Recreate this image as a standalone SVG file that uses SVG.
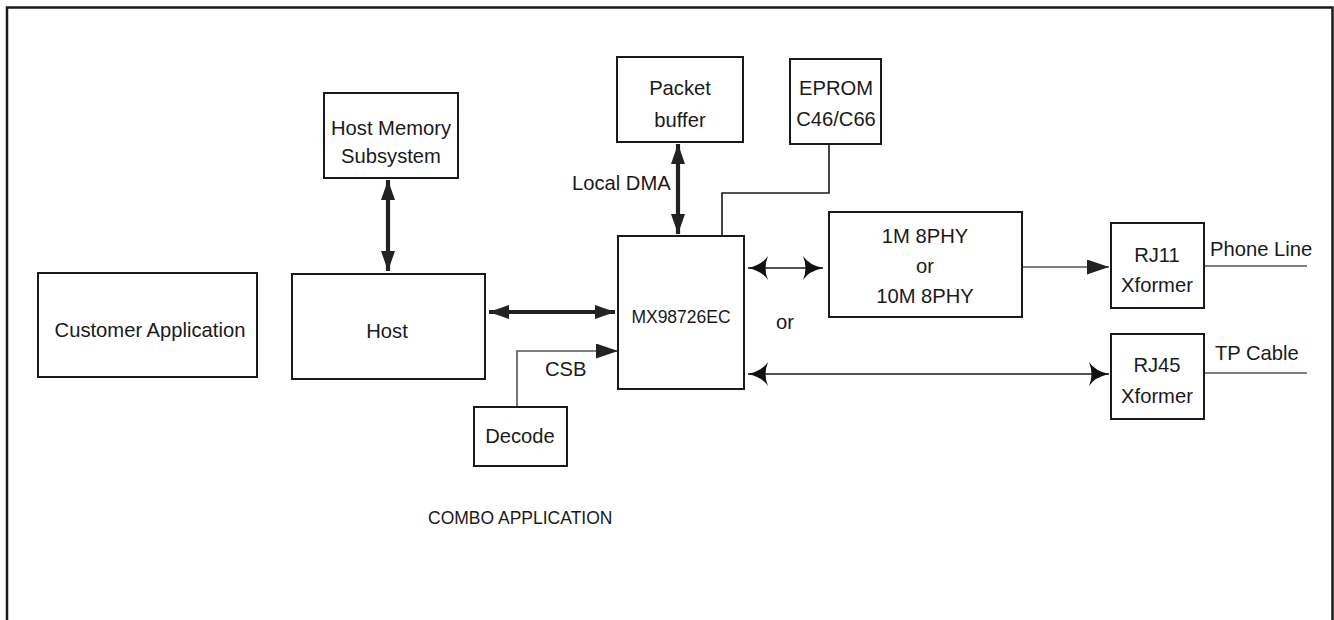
<svg xmlns="http://www.w3.org/2000/svg" width="1334" height="620" viewBox="0 0 1334 620">
<style>
.box{fill:#fff;stroke:#1a1a1a;stroke-width:2}
.t{font-family:"Liberation Sans",Arial,sans-serif;font-size:20.2px;fill:#1a1a1a;text-anchor:middle}
.tl{font-family:"Liberation Sans",Arial,sans-serif;font-size:20.2px;fill:#1a1a1a}
.thick{stroke:#222;stroke-width:4.2;fill:none}
.thin{stroke:#1a1a1a;stroke-width:1.6;fill:none}
.grey{stroke:#555;stroke-width:1.6;fill:none}
</style>
<defs>
<marker id="thk" viewBox="0 0 20 14" refX="20" refY="7" markerWidth="20" markerHeight="14" markerUnits="userSpaceOnUse" orient="auto-start-reverse">
<path d="M0,0 L20,7 L0,14 Z" fill="#222"/>
</marker>
<marker id="barb" viewBox="0 0 20 24" refX="20" refY="12" markerWidth="20" markerHeight="24" markerUnits="userSpaceOnUse" orient="auto-start-reverse">
<path d="M0,0 Q6,9 20,12 Q6,15 0,24 Q5,12 0,0 Z" fill="#111"/>
</marker>
<marker id="tri" viewBox="0 0 22 15" refX="22" refY="7.5" markerWidth="22" markerHeight="15" markerUnits="userSpaceOnUse" orient="auto">
<path d="M0,0 L22,7.5 L0,15 Z" fill="#222"/>
</marker>
</defs>
<path d="M7,620 V7.5 H1332.5 V620" fill="none" stroke="#1a1a1a" stroke-width="2.5"/>

<g id="connectors">
<line class="thick" x1="388" y1="180" x2="388" y2="271" marker-start="url(#thk)" marker-end="url(#thk)"/>
<line class="thick" x1="489" y1="312" x2="615" y2="312" marker-start="url(#thk)" marker-end="url(#thk)"/>
<line class="thick" x1="678" y1="144" x2="678" y2="234" marker-start="url(#thk)" marker-end="url(#thk)"/>
<path class="thin" d="M829,144 V193 H722 V236"/>
<path class="grey" d="M517,407 V351 H618" marker-end="url(#tri)"/>
<line class="thin" x1="748" y1="268" x2="823" y2="268" marker-start="url(#barb)" marker-end="url(#barb)"/>
<line class="grey" x1="1022" y1="267" x2="1109" y2="267" marker-end="url(#tri)"/>
<line class="thin" x1="748" y1="374" x2="1109" y2="374" marker-start="url(#barb)" marker-end="url(#barb)"/>
<line class="grey" x1="1204" y1="266" x2="1307" y2="266"/>
<line class="grey" x1="1204" y1="373" x2="1307" y2="373"/>
</g>

<g id="customer"><rect class="box" x="38" y="273" width="219" height="104"/><text class="t" x="150" y="337">Customer Application</text></g>
<g id="hostmem"><rect class="box" x="324" y="93" width="134" height="85"/><text class="t" x="391" y="135">Host Memory</text><text class="t" x="391" y="163">Subsystem</text></g>
<g id="host"><rect class="box" x="292" y="274" width="193" height="105"/><text class="t" x="387" y="338">Host</text></g>
<g id="decode"><rect class="box" x="474" y="407" width="93" height="59"/><text class="t" x="520" y="443">Decode</text></g>
<g id="mx"><rect class="box" x="618" y="236" width="126" height="153"/><text class="t" x="681" y="323" style="font-size:17.5px">MX98726EC</text></g>
<g id="packet"><rect class="box" x="617" y="57" width="126" height="85"/><text class="t" x="680" y="95">Packet</text><text class="t" x="680" y="127">buffer</text></g>
<g id="eprom"><rect class="box" x="790" y="59" width="91" height="85"/><text class="t" x="836" y="95">EPROM</text><text class="t" x="836" y="126">C46/C66</text></g>
<g id="phy"><rect class="box" x="829" y="212" width="193" height="105"/><text class="t" x="925" y="243">1M 8PHY</text><text class="t" x="925" y="273">or</text><text class="t" x="925" y="303">10M 8PHY</text></g>
<g id="rj11"><rect class="box" x="1111" y="223" width="93" height="85"/><text class="t" x="1157" y="262">RJ11</text><text class="t" x="1157" y="292">Xformer</text></g>
<g id="rj45"><rect class="box" x="1111" y="334" width="93" height="85"/><text class="t" x="1157" y="372">RJ45</text><text class="t" x="1157" y="403">Xformer</text></g>

<text class="tl" x="572" y="190">Local DMA</text>
<text class="tl" x="545" y="376">CSB</text>
<text class="tl" x="776" y="329">or</text>
<text class="tl" x="1210" y="256">Phone Line</text>
<text class="tl" x="1215" y="360">TP Cable</text>
<text class="tl" x="428" y="524" style="font-size:17.5px">COMBO APPLICATION</text>
</svg>
